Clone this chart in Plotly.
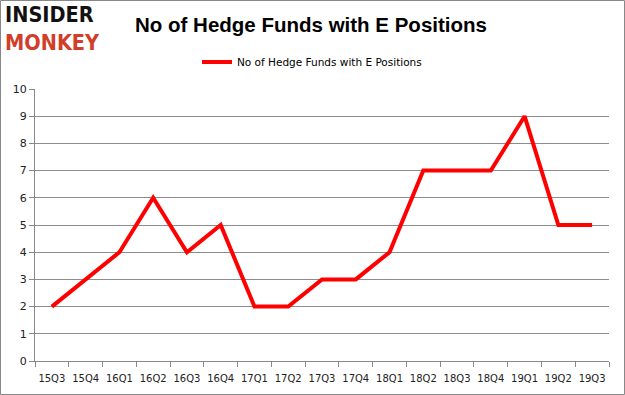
import plotly.graph_objects as go

quarters = ["15Q3", "15Q4", "16Q1", "16Q2", "16Q3", "16Q4", "17Q1", "17Q2", "17Q3",
            "17Q4", "18Q1", "18Q2", "18Q3", "18Q4", "19Q1", "19Q2", "19Q3"]
funds = [2, 3, 4, 6, 4, 5, 2, 2, 3, 3, 4, 7, 7, 7, 9, 5, 5]
series_name = "No of Hedge Funds with E Positions"
y_ticks = list(range(0, 11))

W, H = 625, 395
L, R, T, B = 35, 16, 89, 34
pw, ph = W - L - R, H - T - B

fig = go.Figure()
fig.add_trace(go.Scatter(
    x=quarters, y=funds, mode="lines", name=series_name,
    line=dict(color="#ff0000", width=4),
))

def px_x(p):
    return (p - L) / pw

def px_y(p):
    return (H - B - p) / ph

fig.update_layout(
    width=W, height=H,
    margin=dict(l=L, r=R, t=T, b=B, autoexpand=False),
    paper_bgcolor="white", plot_bgcolor="white",
    font=dict(family="DejaVu Sans", size=10, color="#222"),
    title=dict(text="<b>No of Hedge Funds with E Positions</b>", x=311 / W, xanchor="center",
               y=1 - 25 / H, yanchor="middle",
               font=dict(family="Liberation Sans", size=20.5, color="#000")),
    showlegend=True,
    legend=dict(orientation="h", x=px_x(312), xanchor="center", y=px_y(62), yanchor="middle",
                font=dict(family="DejaVu Sans", size=10.5, color="#000"),
                bgcolor="rgba(0,0,0,0)"),
    xaxis=dict(type="category", showgrid=False, showline=True, linecolor="#888",
               ticks="outside", tickson="boundaries", ticklen=5, tickcolor="#888",
               tickangle=0, automargin=False, ticklabelstandoff=8,
               tickfont=dict(size=10, color="#222"), range=[-0.5, 16.5]),
    yaxis=dict(range=[0, 10], tickvals=y_ticks, showgrid=True, gridcolor="#8c8c8c",
               gridwidth=1, showline=True, linecolor="#888", ticks="outside",
               ticklen=5, tickcolor="#888", tickfont=dict(size=11, color="#222"),
               zeroline=False, automargin=False),
    shapes=[dict(type="rect", xref="paper", yref="paper",
                 x0=px_x(0.5), x1=px_x(W - 0.5), y0=px_y(H - 0.5), y1=px_y(0.5),
                 line=dict(color="#888", width=1), layer="below")],
    annotations=[
        dict(text="<b>INSIDER</b><br><span style='color:#d13f2a'><b>MONKEY</b></span>",
             xref="paper", yref="paper", x=px_x(3), y=px_y(29), align="left",
             xanchor="left", yanchor="middle", showarrow=False,
             font=dict(family="DejaVu Sans Condensed", size=21.5, color="#111")),
    ],
)

fig.write_html("out.html", config={"displayModeBar": False},
               post_script="document.body.style.margin='0';document.body.style.overflow='hidden';")
